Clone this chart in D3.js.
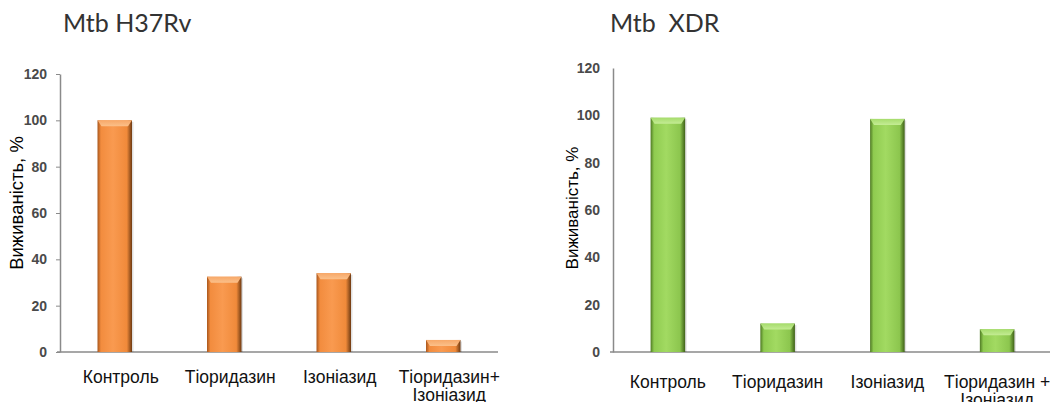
<!DOCTYPE html>
<html>
<head>
<meta charset="utf-8">
<script src="https://cdn.jsdelivr.net/npm/d3@7"></script>
<style>
  body { margin: 0; background: #fff; }
  svg { display: block; }
  .title { font-family: Lato, "Open Sans", sans-serif; font-size: 25px; fill: #333; white-space: pre; }
  .ylab { font-family: "Liberation Sans", Arial, sans-serif; fill: #000; }
  .cat { font-family: "Liberation Sans", Arial, sans-serif; font-size: 17.5px; fill: #111; }
  .tick text { font-family: "Liberation Sans", Arial, sans-serif; font-size: 14px; font-weight: bold; fill: #4a4a4a; }
</style>
</head>
<body>
<svg width="1050" height="402"></svg>
<script>
// data
var categories = ["Контроль", "Тіоридазин", "Ізоніазид", "Тіоридазин+\nІзоніазид"];
var categoriesXdr = ["Контроль", "Тіоридазин", "Ізоніазид", "Тіоридазин +\nІзоніазид"];
var h37rvValues = [100, 32.5, 34, 5.2];
var xdrValues = [99, 12, 98.5, 9.6];
var yTicks = [0, 20, 40, 60, 80, 100, 120];

var svg = d3.select("svg");
var defs = svg.append("defs");

function makeGrad(id, stops, vertical) {
  var g = defs.append("linearGradient").attr("id", id)
      .attr("x1", 0).attr("y1", 0)
      .attr("x2", vertical ? 0 : 1).attr("y2", vertical ? 1 : 0);
  stops.forEach(function(s) {
    g.append("stop").attr("offset", s[0]).attr("stop-color", s[1]);
  });
}

makeGrad("orangeBody", [["0%", "#a8561c"], ["10%", "#f28c3e"], ["45%", "#f99a50"], ["85%", "#f08a3a"], ["100%", "#6e3a12"]]);
makeGrad("orangeCap", [["0%", "#f7a868"], ["100%", "#fbc08a"]], true);
makeGrad("greenBody", [["0%", "#4f7a24"], ["10%", "#8fcb50"], ["45%", "#a2da62"], ["85%", "#8cc64e"], ["100%", "#3f6118"]]);
makeGrad("greenCap", [["0%", "#a6dc6c"], ["100%", "#c4ec94"]], true);

// one panel of the figure
function drawPanel(opt) {
  var g = svg.append("g");

  var x = d3.scaleBand().domain(opt.cats).range([opt.x0, opt.x1]).paddingInner(0).paddingOuter(0);
  var y = d3.scaleLinear().domain([0, 120]).range([opt.yBottom, opt.yTop]);
  var bw = x.bandwidth() * 0.315;

  // y axis
  var yAxis = d3.axisLeft(y).tickValues(yTicks).tickSize(opt.tickSize).tickPadding(opt.tickPad).tickSizeOuter(0);
  var ya = g.append("g").attr("transform", "translate(" + opt.x0 + ",0)").call(yAxis);
  ya.select(".domain").attr("stroke", "#8a8a8a").attr("stroke-width", 1.5);
  ya.selectAll(".tick line").attr("stroke", "#8a8a8a");
  if (opt.tickSize == 0) ya.selectAll(".tick line").remove();

  // x axis line
  g.append("line")
      .attr("x1", opt.x0 - 3).attr("x2", opt.x1)
      .attr("y1", y(0)).attr("y2", y(0))
      .attr("stroke", "#8a8a8a").attr("stroke-width", 1.5);

  var bars = g.selectAll(".bar").data(opt.values).enter().append("g").attr("class", "bar");

  // soft shadow
  bars.append("rect")
      .attr("x", function(d, i) { return x(opt.cats[i]) + x.bandwidth() / 2 - bw / 2 + 1.5; })
      .attr("y", function(d) { return y(d) + 1.5; })
      .attr("width", bw)
      .attr("height", function(d) { return y(0) - y(d) - 1.5; })
      .attr("fill", "#000").attr("opacity", 0.12);

  bars.append("rect")
      .attr("x", function(d, i) { return x(opt.cats[i]) + x.bandwidth() / 2 - bw / 2; })
      .attr("y", function(d) { return y(d); })
      .attr("width", bw)
      .attr("height", function(d) { return y(0) - y(d); })
      .attr("fill", "url(#" + opt.body + ")");

  // top bevel
  bars.append("path")
      .attr("d", function(d, i) {
        var l = x(opt.cats[i]) + x.bandwidth() / 2 - bw / 2, t = y(d), r = l + bw;
        var h = Math.min(6, (y(0) - y(d)) / 2);
        return "M" + l + "," + t + "L" + r + "," + t + "L" + (r - 4) + "," + (t + h) + "L" + (l + 4) + "," + (t + h) + "Z";
      })
      .attr("fill", "url(#" + opt.cap + ")");

  // category labels
  var labels = g.selectAll(".cat").data(opt.cats).enter().append("text")
      .attr("class", "cat")
      .attr("text-anchor", "middle")
      .attr("x", function(d) { return x(d) + x.bandwidth() / 2 + opt.labOff; })
      .attr("y", opt.labY);
  labels.each(function(d) {
    var parts = d.split("\n");
    var t = d3.select(this);
    parts.forEach(function(p, k) {
      t.append("tspan")
          .attr("x", t.attr("x"))
          .attr("dy", k == 0 ? 0 : 18)
          .text(p);
    });
  });

  // y title
  g.append("text").attr("class", "ylab")
      .attr("text-anchor", "middle")
      .style("font-size", opt.yLabSize + "px")
      .attr("transform", "translate(" + opt.yLabX + "," + opt.yLabY + ") rotate(-90)")
      .text("Виживаність, %");

  // title
  g.append("text").attr("class", "title")
      .attr("x", opt.titleX).attr("y", 32)
      .text(opt.title);
}

drawPanel({
  title: "Mtb H37Rv", titleX: 63,
  cats: categories, values: h37rvValues,
  x0: 60, x1: 498, yBottom: 352, yTop: 74,
  tickSize: 4, tickPad: 9,
  body: "orangeBody", cap: "orangeCap",
  labOff: 6, labY: 383,
  yLabX: 23, yLabY: 203, yLabSize: 18.5
});

drawPanel({
  title: "Mtb  XDR", titleX: 610,
  cats: categoriesXdr, values: xdrValues,
  x0: 613, x1: 1052, yBottom: 352, yTop: 68,
  tickSize: 0, tickPad: 13,
  body: "greenBody", cap: "greenCap",
  labOff: 0, labY: 388,
  yLabX: 578, yLabY: 208, yLabSize: 17
});
</script>
</body>
</html>
